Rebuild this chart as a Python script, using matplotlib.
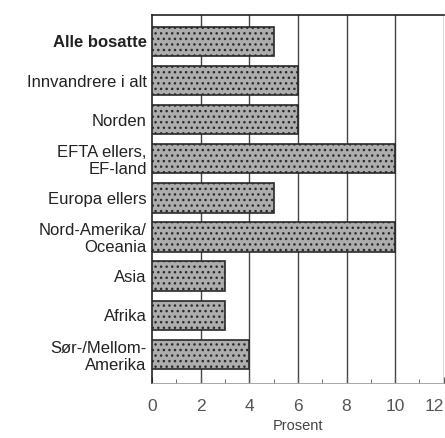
import matplotlib.pyplot as plt
import numpy as np

plt.rcParams['font.family'] = ['Liberation Sans', 'DejaVu Sans']
plt.rcParams['hatch.color'] = '#555555'
plt.rcParams['hatch.linewidth'] = 1.0

labels = ['Alle bosatte', 'Innvandrere i alt', 'Norden', 'EFTA ellers,\nEF-land',
          'Europa ellers', 'Nord-Amerika/\nOceania', 'Asia', 'Afrika',
          'Sør-/Mellom-\nAmerika']
values = [5, 6, 6, 10, 5, 10, 3, 3, 4]
xticks = [0, 2, 4, 6, 8, 10, 12]

fig = plt.figure(figsize=(4.45, 4.38), dpi=100)
ax = fig.add_axes([0.342, 0.126, 0.655, 0.84])

y = np.arange(len(labels))
ax.barh(y, values, height=0.75, color='#adadad', edgecolor='#2a2a2a',
        linewidth=1.2, hatch='...', zorder=3)

for v in xticks[1:]:
    ax.axvline(v, color='#444444', lw=1.0, zorder=1)

ax.set_xlim(0, 12)
ax.set_ylim(8.73, -0.68)
ax.set_yticks(y)
ax.set_yticklabels(labels, fontsize=12, color='#222222', linespacing=1.15)
ax.get_yticklabels()[0].set_fontweight('bold')
ax.set_xticks(xticks)
ax.set_xticklabels([str(t) for t in xticks], fontsize=12.5, color='#555555')
ax.get_xticklabels()[-1].set_horizontalalignment('right')
ax.set_xticks(np.arange(1, 12, 2), minor=True)
ax.tick_params(axis='x', direction='in', length=4, pad=12, color='#555555')
ax.tick_params(axis='x', which='minor', direction='in', length=3, color='#555555')
ax.tick_params(axis='y', length=0, pad=4)
ax.set_xlabel('Prosent', fontsize=10.5, color='#444444', labelpad=3)

for side in ['top', 'left']:
    ax.spines[side].set_color('#222222')
    ax.spines[side].set_linewidth(1.2)
ax.spines['right'].set_visible(False)
ax.spines['bottom'].set_color('#999999')
ax.spines['bottom'].set_linewidth(0.6)

fig.savefig('out.png', dpi=100)
